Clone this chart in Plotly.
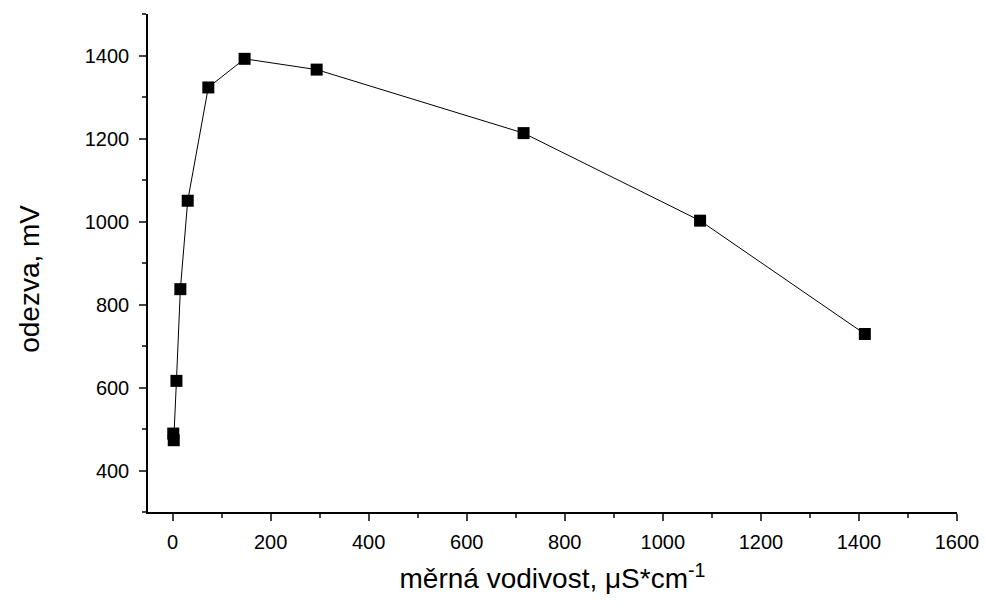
import plotly.graph_objects as go

conductivity = [1.5, 2.5, 8, 16, 31, 73, 147, 294, 716, 1076, 1412]
response = [489, 473, 616, 837, 1050, 1323, 1392, 1366, 1213, 1002, 729]

x_ticks = [0, 200, 400, 600, 800, 1000, 1200, 1400, 1600]
y_ticks = [400, 600, 800, 1000, 1200, 1400]

fig = go.Figure()
fig.add_trace(go.Scatter(
    x=conductivity, y=response, mode="lines+markers",
    line=dict(color="black", width=1),
    marker=dict(symbol="square", size=12, color="black"),
    showlegend=False,
))

font = "Liberation Sans, Arial, sans-serif"
fig.update_layout(
    width=985, height=606,
    margin=dict(l=148, r=28, t=14, b=94),
    plot_bgcolor="white", paper_bgcolor="white",
    font=dict(family=font, color="black", size=20),
)
fig.update_xaxes(
    range=[-50, 1600], tickvals=x_ticks, ticks="outside", ticklen=7, tickwidth=1.5,
    showline=True, linecolor="black", linewidth=1.5, showgrid=False, zeroline=False,
    minor=dict(ticks="outside", ticklen=4, tickwidth=1.5, dtick=100, tick0=0, showgrid=False),
    tickfont=dict(size=20), ticklabelstandoff=4, automargin=False,
    title=dict(text="měrná vodivost, μS*cm<sup>-1</sup>", font=dict(size=28), standoff=17),
)
fig.update_yaxes(
    range=[300, 1500], tickvals=y_ticks, ticks="outside", ticklen=7, tickwidth=1.5,
    showline=True, linecolor="black", linewidth=1.5, showgrid=False, zeroline=False,
    minor=dict(ticks="outside", ticklen=4, tickwidth=1.5, dtick=100, tick0=0, showgrid=False),
    tickfont=dict(size=20), ticklabelstandoff=6, automargin=False,
)
fig.add_annotation(
    text="odezva, mV", xref="paper", yref="paper", x=-0.146, y=0.468,
    xanchor="center", yanchor="middle", textangle=-90, showarrow=False,
    font=dict(size=28),
)
fig.write_html("out.html")
